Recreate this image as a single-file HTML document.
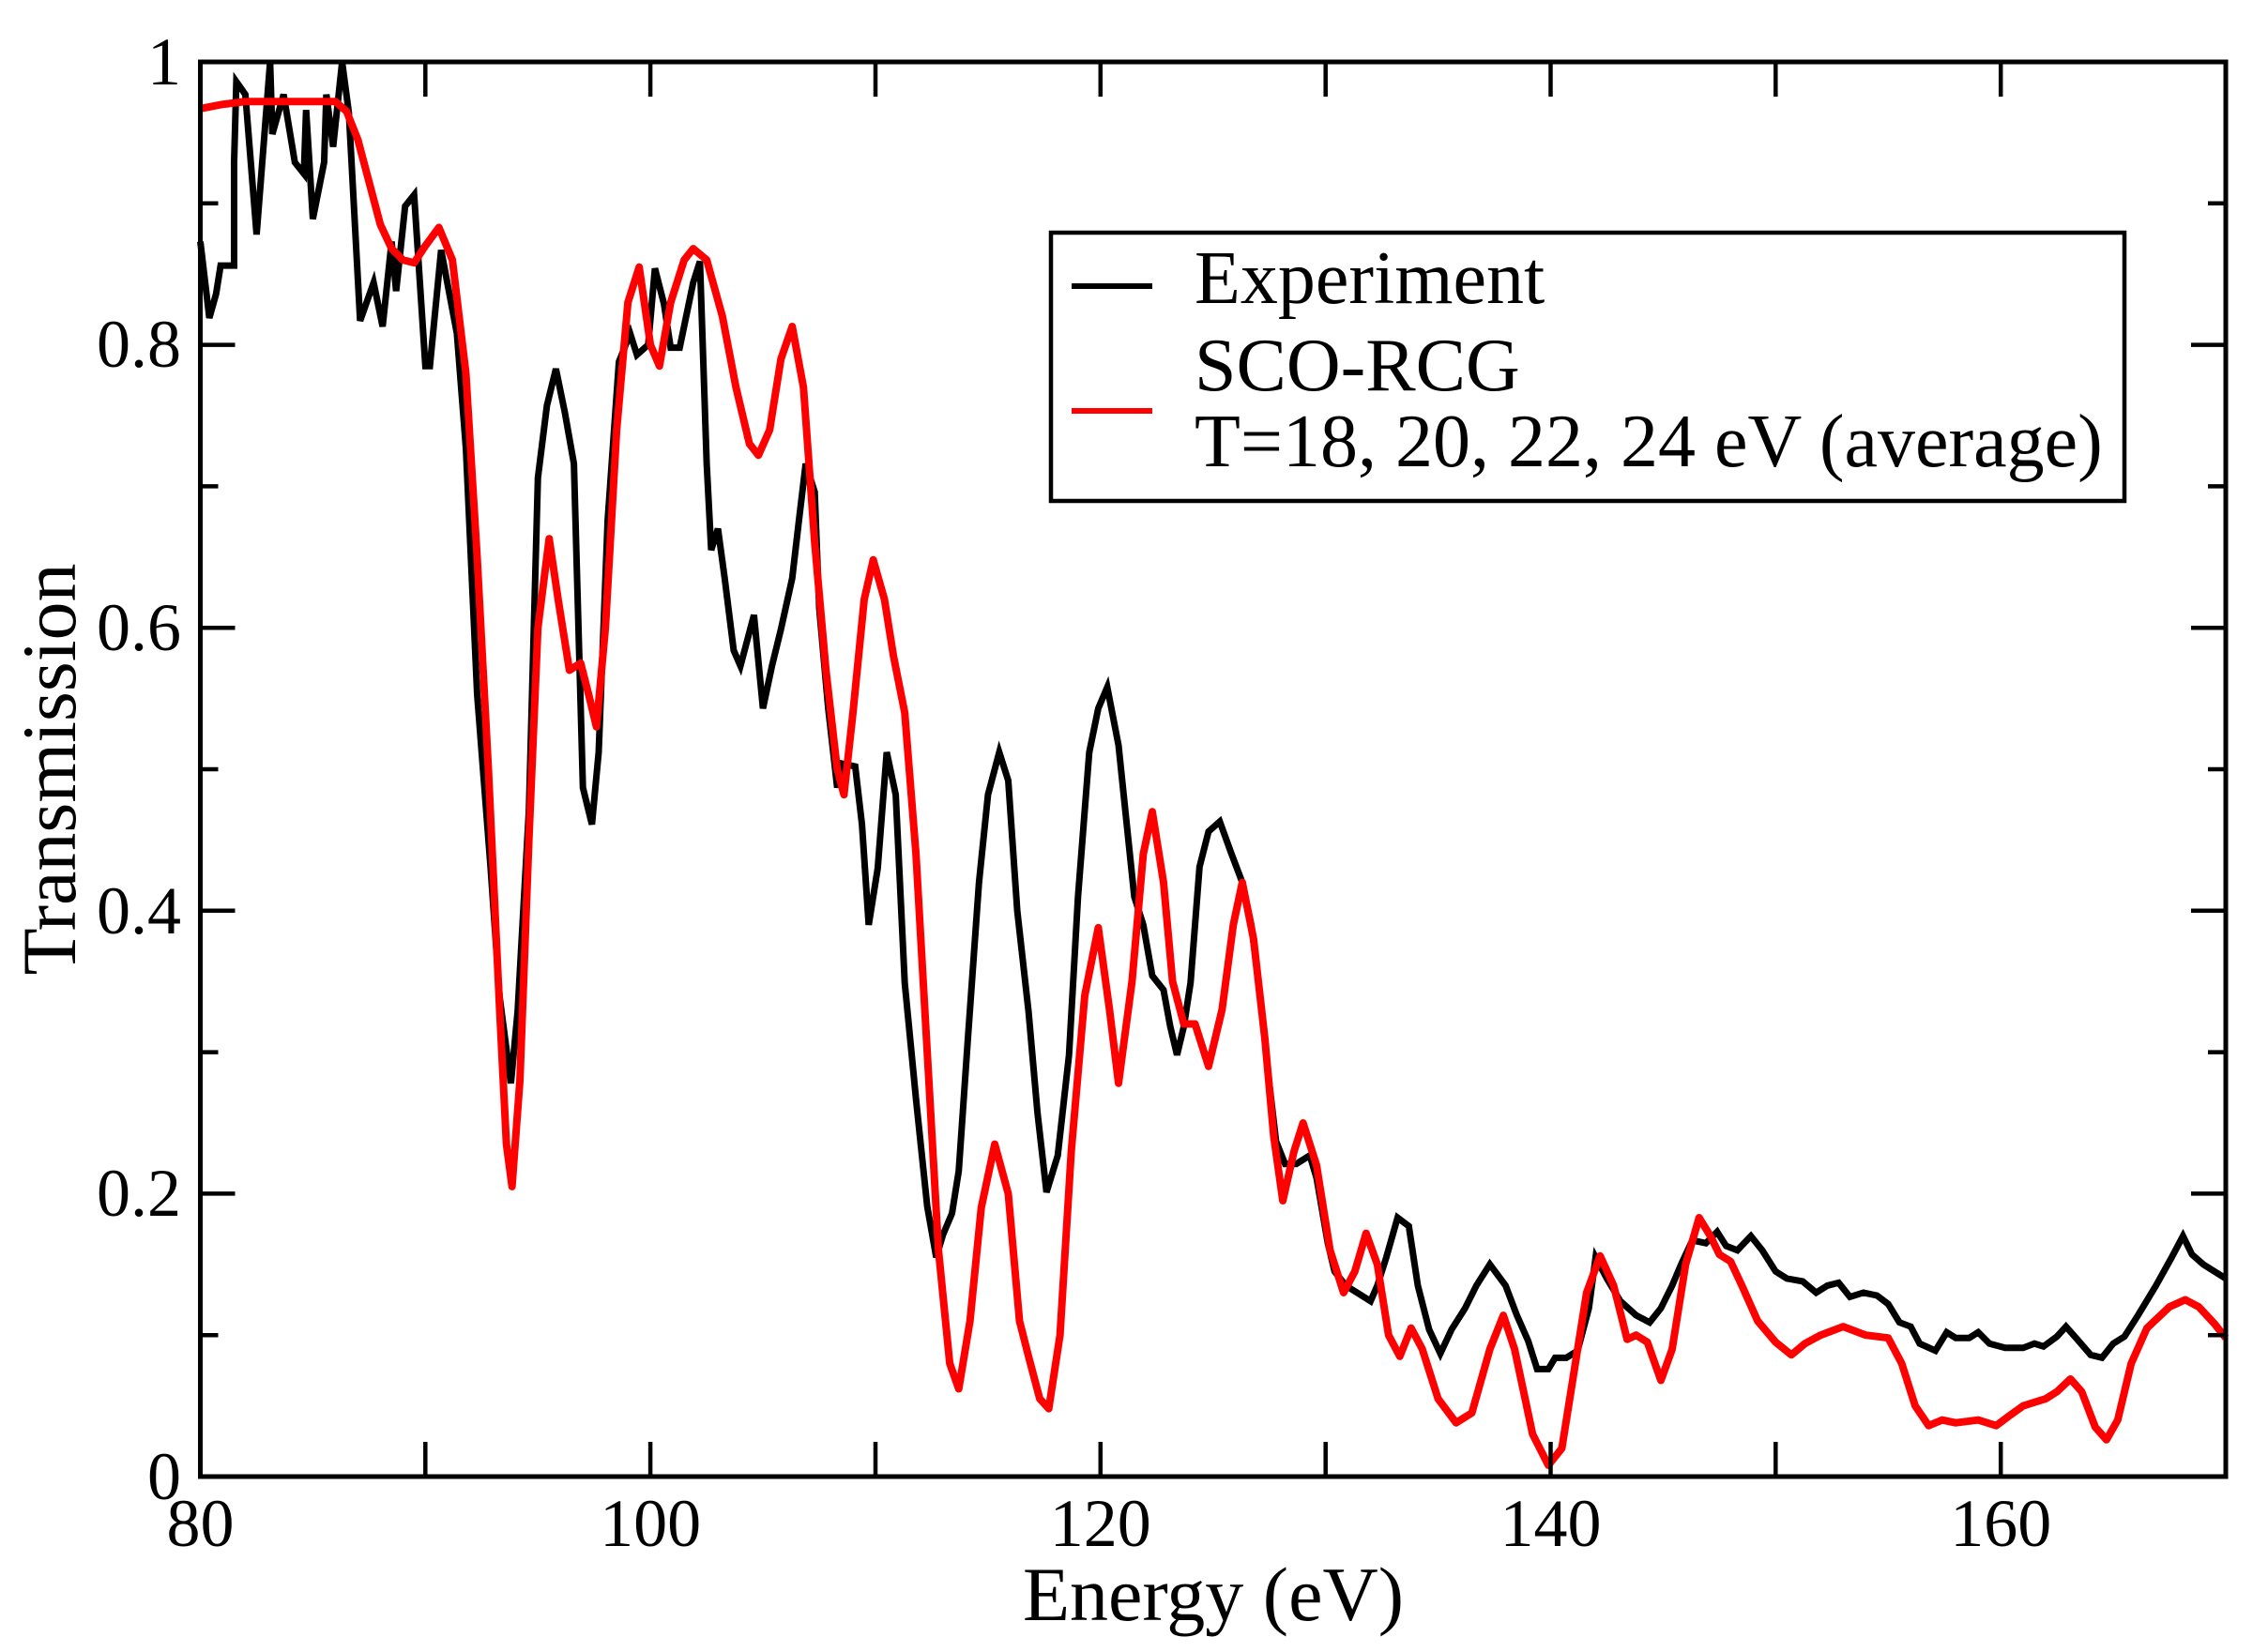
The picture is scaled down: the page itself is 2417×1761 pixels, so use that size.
<!DOCTYPE html>
<html><head><meta charset="utf-8"><style>
html,body{margin:0;padding:0;background:#fff;}
svg{display:block;}
text{font-family:"Liberation Serif",serif;fill:#000;}
</style></head><body>
<svg width="2417" height="1761" viewBox="0 0 2417 1761" xmlns="http://www.w3.org/2000/svg">
<rect width="2417" height="1761" fill="#fff"/>
<g transform="translate(213.5,1574) scale(23.983,-1508) translate(-80,0)">
<polyline fill="none" stroke="#000" stroke-width="7" vector-effect="non-scaling-stroke" stroke-linejoin="miter" points="
80,0.873 80.4,0.819 80.7,0.836 80.9,0.856 81.5,0.856 81.5,0.929 81.6,0.986 82.0,0.977 82.5,0.878 83.1,1.0 83.2,0.949 83.7,0.977 84.2,0.929 84.6,0.921 84.7,0.966 85.0,0.889 85.5,0.929 85.6,0.977 85.9,0.94 86.3,1.0 86.6,0.964 87.1,0.817 87.7,0.844 88.1,0.813 88.5,0.873 88.7,0.838 89.1,0.898 89.5,0.906 90.0,0.785 90.2,0.785 90.7,0.867 91.4,0.808 91.8,0.727 92.3,0.553 92.9,0.43 93.3,0.339 93.8,0.278 94.1,0.329 94.6,0.471 95.0,0.706 95.4,0.757 95.8,0.783 96.2,0.752 96.6,0.716 97.0,0.487 97.4,0.461 97.7,0.512 98.1,0.676 98.6,0.788 99.1,0.808 99.4,0.793 99.9,0.8 100.2,0.854 100.6,0.829 100.9,0.798 101.3,0.798 101.9,0.844 102.2,0.859 102.5,0.716 102.7,0.655 103.0,0.67 103.3,0.635 103.7,0.584 104.0,0.573 104.6,0.609 105.0,0.543 105.4,0.573 105.8,0.599 106.3,0.635 106.6,0.676 106.9,0.716 107.3,0.696 107.5,0.614 107.9,0.543 108.3,0.487 108.5,0.504 109.1,0.502 109.4,0.461 109.7,0.39 110.1,0.43 110.5,0.512 110.9,0.482 111.3,0.349 111.8,0.267 112.3,0.191 112.7,0.155 113.0,0.171 113.4,0.186 113.7,0.216 114.1,0.308 114.6,0.42 115.0,0.482 115.5,0.512 115.9,0.492 116.3,0.4 116.8,0.329 117.2,0.257 117.6,0.201 118.1,0.227 118.6,0.298 119.0,0.41 119.5,0.512 119.9,0.543 120.3,0.558 120.8,0.517 121.1,0.471 121.5,0.41 121.9,0.39 122.3,0.354 122.8,0.344 123.1,0.318 123.4,0.298 123.7,0.318 124.0,0.349 124.4,0.431 124.8,0.456 125.3,0.463 125.8,0.441 126.3,0.42 126.7,0.39 127.1,0.339 127.5,0.278 127.8,0.237 128.2,0.221 128.7,0.221 129.3,0.227 129.6,0.211 130.1,0.165 130.4,0.145 130.9,0.135 131.4,0.13 132.0,0.124 132.3,0.135 132.7,0.155 133.2,0.183 133.7,0.177 134.1,0.135 134.6,0.104 135.1,0.087 135.6,0.104 136.2,0.119 136.7,0.135 137.3,0.15 138.0,0.135 138.5,0.114 139.0,0.096 139.4,0.076 139.9,0.076 140.2,0.084 140.7,0.084 141.2,0.089 141.7,0.119 142.0,0.155 142.5,0.14 143.1,0.124 143.8,0.114 144.4,0.109 144.9,0.119 145.4,0.135 145.8,0.15 146.3,0.167 146.9,0.165 147.4,0.173 147.8,0.163 148.3,0.16 148.9,0.17 149.4,0.16 150.0,0.145 150.5,0.14 151.2,0.138 151.8,0.13 152.3,0.135 152.8,0.137 153.3,0.127 153.9,0.13 154.5,0.128 155.0,0.122 155.5,0.109 156.0,0.106 156.4,0.094 157.1,0.089 157.6,0.102 158.0,0.098 158.6,0.098 159.0,0.102 159.5,0.094 160.2,0.091 161.0,0.091 161.5,0.094 161.9,0.092 162.5,0.099 162.9,0.106 163.4,0.097 164.0,0.086 164.5,0.084 165.0,0.094 165.5,0.099 166.1,0.114 166.9,0.135 167.6,0.155 168.1,0.17 168.5,0.157 169.0,0.15 170,0.14"/>
<polyline fill="none" stroke="#f00" stroke-width="8" vector-effect="non-scaling-stroke" stroke-linejoin="round" points="
80,0.967 81,0.97 82,0.972 86,0.972 86.5,0.965 87,0.945 87.5,0.915 88,0.885 88.5,0.868 89,0.86 89.5,0.858 90.0,0.87 90.6,0.883 91.2,0.86 91.8,0.78 92.3,0.65 92.8,0.5 93.3,0.33 93.6,0.235 93.85,0.205 94.2,0.28 94.6,0.45 95.0,0.6 95.5,0.663 95.9,0.62 96.4,0.57 96.9,0.575 97.3,0.55 97.6,0.53 98.0,0.6 98.5,0.74 99.0,0.83 99.5,0.855 100.0,0.8 100.4,0.785 100.9,0.83 101.5,0.86 101.9,0.868 102.5,0.86 103.2,0.82 103.8,0.77 104.4,0.73 104.8,0.722 105.3,0.74 105.8,0.79 106.3,0.813 106.8,0.77 107.3,0.66 107.8,0.57 108.3,0.5 108.6,0.482 109.0,0.54 109.5,0.62 109.9,0.648 110.4,0.62 110.8,0.58 111.3,0.54 111.8,0.44 112.3,0.3 112.8,0.16 113.3,0.08 113.7,0.062 114.2,0.11 114.7,0.19 115.3,0.235 115.9,0.2 116.4,0.11 116.8,0.085 117.3,0.055 117.7,0.048 118.2,0.1 118.7,0.23 119.3,0.34 119.9,0.388 120.4,0.33 120.8,0.278 121.4,0.35 121.9,0.44 122.3,0.47 122.8,0.42 123.2,0.35 123.7,0.32 124.2,0.32 124.8,0.29 125.4,0.33 125.9,0.39 126.3,0.42 126.8,0.38 127.3,0.31 127.7,0.24 128.1,0.195 128.6,0.23 129.0,0.25 129.6,0.22 130.2,0.16 130.8,0.13 131.3,0.145 131.8,0.172 132.3,0.15 132.8,0.1 133.3,0.085 133.8,0.105 134.3,0.09 135.0,0.055 135.8,0.038 136.5,0.045 137.3,0.09 137.9,0.114 138.4,0.09 139.2,0.03 139.9,0.008 140.5,0.02 141.0,0.07 141.6,0.13 142.2,0.156 142.8,0.135 143.4,0.097 143.8,0.1 144.3,0.095 144.9,0.068 145.4,0.09 146.0,0.15 146.6,0.183 147.1,0.17 147.5,0.157 148.0,0.152 148.5,0.135 149.2,0.11 150.0,0.095 150.7,0.086 151.3,0.094 152.0,0.1 153.0,0.106 154.0,0.1 155.0,0.098 155.6,0.08 156.2,0.05 156.8,0.036 157.4,0.04 158.0,0.038 159.0,0.04 159.8,0.036 160.3,0.042 161.0,0.05 162.0,0.055 162.5,0.06 163.1,0.069 163.6,0.06 164.2,0.035 164.7,0.026 165.2,0.04 165.8,0.08 166.5,0.105 167.5,0.12 168.2,0.125 168.8,0.12 169.5,0.108 170,0.098"/>
</g>
<rect x="213.5" y="66" width="2158.5" height="1508" fill="none" stroke="#000" stroke-width="5"/>
<g stroke="#000" stroke-width="4.5">
<path d="M453.3,1574v-37M693.1,1574v-37M933,1574v-37M1172.8,1574v-37M1412.7,1574v-37M1652.5,1574v-37M1892.3,1574v-37M2132.2,1574v-37"/>
<path d="M453.3,66v37M693.1,66v37M933,66v37M1172.8,66v37M1412.7,66v37M1652.5,66v37M1892.3,66v37M2132.2,66v37"/>
<path d="M213.5,1272.4h37M213.5,970.8h37M213.5,669.2h37M213.5,367.6h37M2372,1272.4h-37M2372,970.8h-37M2372,669.2h-37M2372,367.6h-37"/>
<path d="M213.5,1423.2h19M213.5,1121.6h19M213.5,820h19M213.5,518.4h19M213.5,216.8h19M2372,1423.2h-19M2372,1121.6h-19M2372,820h-19M2372,518.4h-19M2372,216.8h-19"/>
</g>
<g font-size="72" text-anchor="middle">
<text x="213.5" y="1648">80</text>
<text x="693.1" y="1648">100</text>
<text x="1172.8" y="1648">120</text>
<text x="1652.5" y="1648">140</text>
<text x="2132.2" y="1648">160</text>
</g>
<g font-size="72" text-anchor="end">
<text x="193" y="1598">0</text>
<text x="193" y="1296">0.2</text>
<text x="193" y="995">0.4</text>
<text x="193" y="693">0.6</text>
<text x="193" y="391">0.8</text>
<text x="193" y="90">1</text>
</g>
<text x="1293" y="1727" font-size="82" text-anchor="middle">Energy (eV)</text>
<text transform="translate(80,820) rotate(-90)" font-size="82" text-anchor="middle">Transmission</text>
<rect x="1120" y="248" width="1144" height="286" fill="#fff" stroke="#000" stroke-width="4.5"/>
<line x1="1142" y1="305" x2="1228" y2="305" stroke="#000" stroke-width="6"/>
<line x1="1142" y1="438" x2="1228" y2="438" stroke="#f00" stroke-width="6"/>
<g font-size="80">
<text x="1273" y="323">Experiment</text>
<text x="1273" y="416">SCO-RCG</text>
<text x="1273" y="497">T=18, 20, 22, 24 eV (average)</text>
</g>
</svg>
</body></html>
